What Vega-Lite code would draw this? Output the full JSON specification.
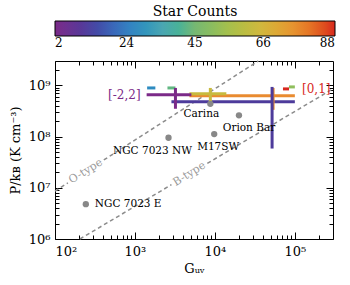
{
  "$schema": "https://vega.github.io/schema/vega-lite/v6.json",
  "width": 278,
  "height": 178,
  "autosize": {"type": "none"},
  "padding": {"left": 55, "top": 61, "right": 17, "bottom": 46},
  "background": "white",
  "config": {
    "view": {"stroke": "black", "strokeWidth": 1},
    "font": "DejaVu Serif",
    "axis": {
      "domain": false, "grid": false,
      "labelFont": "DejaVu Serif", "labelFontSize": 13, "labelColor": "black",
      "titleFont": "DejaVu Serif", "titleFontSize": 13, "titleFontWeight": "normal", "titleColor": "black",
      "tickColor": "black", "tickWidth": 1
    },
    "legend": {
      "orient": "none", "legendX": 0, "legendY": -56,
      "direction": "horizontal", "gradientLength": 280, "gradientThickness": 15,
      "gradientStrokeColor": "black", "gradientStrokeWidth": 1,
      "titleFont": "DejaVu Serif", "titleFontSize": 14, "titleFontWeight": "normal", "titleColor": "black",
      "titleAnchor": "middle", "titleOrient": "top", "titlePadding": 2,
      "labelFont": "DejaVu Serif", "labelFontSize": 12, "labelColor": "black", "labelOverlap": false, "labelOffset": 7
    }
  },
  "datasets": {
    "lines": [
      {"name": "O-type", "g1": 100, "p1": 8600000, "g2": 145, "p2": 12500000},
      {"name": "O-type", "g1": 408, "p1": 35000000, "g2": 34900, "p2": 3000000000},
      {"name": "B-type", "g1": 205, "p1": 1000000, "g2": 2860, "p2": 11500000},
      {"name": "B-type", "g1": 8040, "p1": 30000000, "g2": 300000, "p2": 860000000}
    ],
    "linelabels": [
      {"label": "O-type", "g": 243, "p": 20900000},
      {"label": "B-type", "g": 4800, "p": 18600000}
    ],
    "hbars": [
      {"count": 88, "x1": 71000, "x2": 84500, "p": 855000000, "tag": "[0,1]"},
      {"count": 77, "x1": 4800, "x2": 100000, "p": 626000000, "tag": ""},
      {"count": 63, "x1": 4800, "x2": 13900, "p": 684000000, "tag": ""},
      {"count": 51, "x1": 84500, "x2": 100000, "p": 935000000, "tag": ""},
      {"count": 43, "x1": 2550, "x2": 3210, "p": 893000000, "tag": ""},
      {"count": 27, "x1": 1420, "x2": 1800, "p": 893000000, "tag": ""},
      {"count": 12, "x1": 2860, "x2": 100000, "p": 478000000, "tag": ""},
      {"count": 2, "x1": 1400, "x2": 5080, "p": 654000000, "tag": "[-2,2]"}
    ],
    "vbars": [
      {"count": 77, "g": 53400, "p1": 334000000, "p2": 893000000},
      {"count": 63, "g": 8770, "p1": 457000000, "p2": 893000000},
      {"count": 12, "g": 51900, "p1": 58500000, "p2": 935000000},
      {"count": 2, "g": 3210, "p1": 350000000, "p2": 893000000}
    ],
    "regions": [
      {"name": "NGC 7023 E", "g": 243, "p": 4800000},
      {"name": "NGC 7023 NW", "g": 2630, "p": 95000000},
      {"name": "M17SW", "g": 9800, "p": 112000000},
      {"name": "Orion Bar", "g": 20000, "p": 260000000},
      {"name": "Carina", "g": 8770, "p": 437000000}
    ]
  },
  "resolve": {"axis": {"x": "independent", "y": "independent"}},
  "layer": [
    {
      "data": {"name": "lines"},
      "mark": {"type": "rule", "color": "#8c8c8c", "strokeWidth": 1.5, "strokeDash": [4, 3]},
      "encoding": {
        "x": {"field": "g1", "type": "quantitative", "scale": {"type": "log", "domain": [100, 300000], "nice": false},
          "axis": {"orient": "bottom", "values": [100, 1000, 10000, 100000], "ticks": false, "labelPadding": 6,
            "labelExpr": "datum.value == 100 ? '10²' : datum.value == 1000 ? '10³' : datum.value == 10000 ? '10⁴' : '10⁵'",
            "title": "Gᵤᵥ", "titlePadding": 4}},
        "x2": {"field": "g2"},
        "y": {"field": "p1", "type": "quantitative", "scale": {"type": "log", "domain": [1000000, 3000000000], "nice": false},
          "axis": {"orient": "left", "values": [1000000, 10000000, 100000000, 1000000000], "ticks": false, "labelPadding": 5,
            "labelExpr": "datum.value == 1000000 ? '10⁶' : datum.value == 10000000 ? '10⁷' : datum.value == 100000000 ? '10⁸' : '10⁹'",
            "title": "P/kʙ (K cm⁻³)", "titlePadding": 6}},
        "y2": {"field": "p2"}
      }
    },
    {
      "data": {"name": "linelabels"},
      "mark": {"type": "text", "color": "#999999", "fontSize": 11, "font": "DejaVu Serif", "angle": -32, "align": "center", "baseline": "middle"},
      "encoding": {
        "x": {"field": "g", "type": "quantitative", "scale": {"type": "log", "domain": [100, 300000], "nice": false},
          "axis": {"orient": "bottom", "values": [100, 1000, 10000, 100000], "labels": false, "tickSize": -7, "title": null}},
        "y": {"field": "p", "type": "quantitative", "scale": {"type": "log", "domain": [1000000, 3000000000], "nice": false},
          "axis": {"orient": "left", "values": [1000000, 10000000, 100000000, 1000000000], "labels": false, "tickSize": -7, "title": null}},
        "text": {"field": "label"}
      }
    },
    {
      "data": {"name": "hbars"},
      "mark": {"type": "rule", "strokeWidth": 3},
      "encoding": {
        "x": {"field": "x1", "type": "quantitative", "scale": {"type": "log", "domain": [100, 300000], "nice": false},
          "axis": {"orient": "bottom", "values": [200, 300, 400, 500, 600, 700, 800, 900, 2000, 3000, 4000, 5000, 6000, 7000, 8000, 9000, 20000, 30000, 40000, 50000, 60000, 70000, 80000, 90000, 200000], "labels": false, "tickSize": -4, "title": null}},
        "x2": {"field": "x2"},
        "y": {"field": "p", "type": "quantitative", "scale": {"type": "log", "domain": [1000000, 3000000000], "nice": false},
          "axis": {"orient": "left", "values": [2000000, 3000000, 4000000, 5000000, 6000000, 7000000, 8000000, 9000000, 20000000, 30000000, 40000000, 50000000, 60000000, 70000000, 80000000, 90000000, 200000000, 300000000, 400000000, 500000000, 600000000, 700000000, 800000000, 900000000, 2000000000], "labels": false, "tickSize": -4, "title": null}},
        "color": {"field": "count", "type": "quantitative", "title": "Star Counts",
          "scale": {"domain": [2, 12.75, 23.5, 34.25, 45, 55.75, 66.5, 77.25, 88],
            "range": ["#7b2a88", "#483c9c", "#3a7cc2", "#4ea4b4", "#76b872", "#a8c04a", "#d6b63e", "#e98a30", "#d8281e"]},
          "legend": {"type": "gradient", "values": [2, 24, 45, 66, 88]}}
      }
    },
    {
      "data": {"name": "vbars"},
      "mark": {"type": "rule", "strokeWidth": 3},
      "encoding": {
        "x": {"field": "g", "type": "quantitative", "scale": {"type": "log", "domain": [100, 300000], "nice": false},
          "axis": {"orient": "top", "values": [100, 1000, 10000, 100000], "labels": false, "tickSize": -7, "title": null}},
        "y": {"field": "p1", "type": "quantitative", "scale": {"type": "log", "domain": [1000000, 3000000000], "nice": false},
          "axis": {"orient": "right", "values": [1000000, 10000000, 100000000, 1000000000], "labels": false, "tickSize": -7, "title": null}},
        "y2": {"field": "p2"},
        "color": {"field": "count", "type": "quantitative"}
      }
    },
    {
      "data": {"name": "regions"},
      "mark": {"type": "circle", "color": "#888888", "opacity": 1, "size": 40},
      "encoding": {
        "x": {"field": "g", "type": "quantitative", "scale": {"type": "log", "domain": [100, 300000], "nice": false},
          "axis": {"orient": "top", "values": [200, 300, 400, 500, 600, 700, 800, 900, 2000, 3000, 4000, 5000, 6000, 7000, 8000, 9000, 20000, 30000, 40000, 50000, 60000, 70000, 80000, 90000, 200000], "labels": false, "tickSize": -4, "title": null}},
        "y": {"field": "p", "type": "quantitative", "scale": {"type": "log", "domain": [1000000, 3000000000], "nice": false},
          "axis": {"orient": "right", "values": [2000000, 3000000, 4000000, 5000000, 6000000, 7000000, 8000000, 9000000, 20000000, 30000000, 40000000, 50000000, 60000000, 70000000, 80000000, 90000000, 200000000, 300000000, 400000000, 500000000, 600000000, 700000000, 800000000, 900000000, 2000000000], "labels": false, "tickSize": -4, "title": null}}
      }
    },
    {
      "data": {"name": "regions"},
      "transform": [{"filter": "datum.name == 'NGC 7023 E'"}],
      "mark": {"type": "text", "align": "left", "baseline": "middle", "dx": 9, "dy": 0, "fontSize": 10.5, "color": "black"},
      "encoding": {
        "x": {"field": "g", "type": "quantitative", "axis": null},
        "y": {"field": "p", "type": "quantitative", "axis": null},
        "text": {"field": "name"}
      }
    },
    {
      "data": {"name": "regions"},
      "transform": [{"filter": "datum.name == 'NGC 7023 NW'"}],
      "mark": {"type": "text", "align": "center", "baseline": "middle", "dx": -16, "dy": 13, "fontSize": 10.5, "color": "black"},
      "encoding": {
        "x": {"field": "g", "type": "quantitative", "axis": null},
        "y": {"field": "p", "type": "quantitative", "axis": null},
        "text": {"field": "name"}
      }
    },
    {
      "data": {"name": "regions"},
      "transform": [{"filter": "datum.name == 'M17SW'"}],
      "mark": {"type": "text", "align": "center", "baseline": "middle", "dx": 4, "dy": 13, "fontSize": 10.5, "color": "black"},
      "encoding": {
        "x": {"field": "g", "type": "quantitative", "axis": null},
        "y": {"field": "p", "type": "quantitative", "axis": null},
        "text": {"field": "name"}
      }
    },
    {
      "data": {"name": "regions"},
      "transform": [{"filter": "datum.name == 'Orion Bar'"}],
      "mark": {"type": "text", "align": "center", "baseline": "middle", "dx": 10, "dy": 13, "fontSize": 10.5, "color": "black"},
      "encoding": {
        "x": {"field": "g", "type": "quantitative", "axis": null},
        "y": {"field": "p", "type": "quantitative", "axis": null},
        "text": {"field": "name"}
      }
    },
    {
      "data": {"name": "regions"},
      "transform": [{"filter": "datum.name == 'Carina'"}],
      "mark": {"type": "text", "align": "center", "baseline": "middle", "dx": -9, "dy": 10, "fontSize": 10.5, "color": "black"},
      "encoding": {
        "x": {"field": "g", "type": "quantitative", "axis": null},
        "y": {"field": "p", "type": "quantitative", "axis": null},
        "text": {"field": "name"}
      }
    },
    {
      "data": {"name": "hbars"},
      "transform": [{"filter": "datum.tag == '[-2,2]'"}],
      "mark": {"type": "text", "align": "right", "baseline": "middle", "dx": -6, "fontSize": 12, "color": "#7b2a88"},
      "encoding": {
        "x": {"field": "x1", "type": "quantitative", "axis": null},
        "y": {"field": "p", "type": "quantitative", "axis": null},
        "text": {"field": "tag"}
      }
    },
    {
      "data": {"name": "hbars"},
      "transform": [{"filter": "datum.tag == '[0,1]'"}],
      "mark": {"type": "text", "align": "left", "baseline": "middle", "dx": 13, "fontSize": 12, "color": "#d8281e"},
      "encoding": {
        "x": {"field": "x2", "type": "quantitative", "axis": null},
        "y": {"field": "p", "type": "quantitative", "axis": null},
        "text": {"field": "tag"}
      }
    }
  ]
}
